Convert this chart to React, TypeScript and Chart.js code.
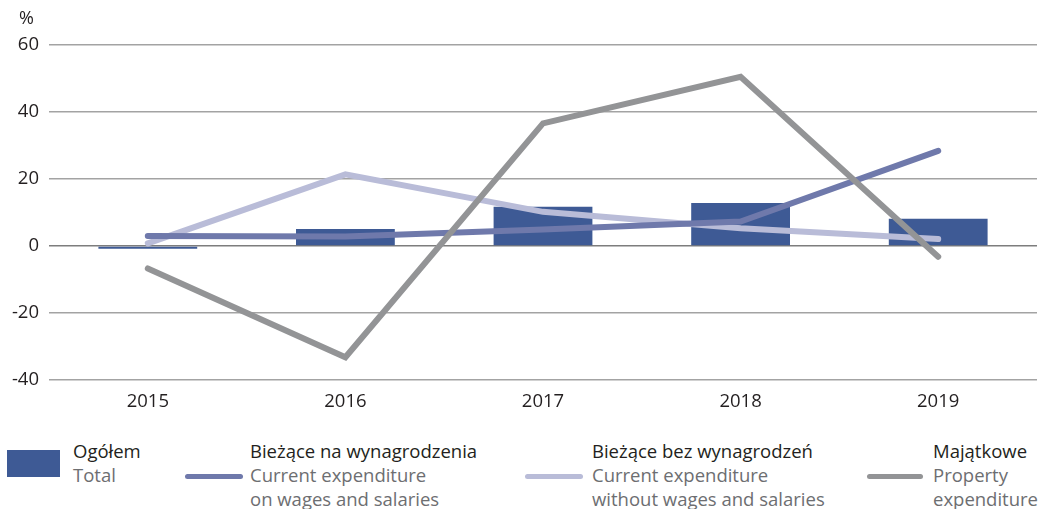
import React, { useEffect, useRef } from "react";
import { Chart, registerables } from "chart.js";

Chart.register(...registerables);

const categories = ["2015", "2016", "2017", "2018", "2019"];
const totalValues = [-0.8, 5.1, 11.7, 12.8, 8.1];
const wagesValues = [3.0, 2.8, 4.9, 7.3, 28.4];
const nonWagesValues = [0.8, 21.4, 10.2, 5.3, 2.1];
const propertyValues = [-6.7, -33.2, 36.6, 50.5, -3.2];
const yTicks = [-40, -20, 0, 20, 40, 60];

const FONT = "'Open Sans', sans-serif";
const BAR = "#3e5a95";
const WAGES = "#6f79ab";
const NONWAGES = "#b9bcd8";
const PROPERTY = "#939496";
const TITLE = "#231f20";
const SUB = "#6d6e71";

const legendItems = [
  { kind: "bar", color: BAR, title: "Ogółem", sub: ["Total"], swX: 7, swW: 53, txtX: 73 },
  { kind: "line", color: WAGES, title: "Bieżące na wynagrodzenia", sub: ["Current expenditure", "on wages and salaries"], swX: 185, swW: 58, txtX: 250 },
  { kind: "line", color: NONWAGES, title: "Bieżące bez wynagrodzeń", sub: ["Current expenditure", "without wages and salaries"], swX: 525, swW: 58, txtX: 592 },
  { kind: "line", color: PROPERTY, title: "Majątkowe", sub: ["Property", "expenditure"], swX: 867, swW: 56, txtX: 933 },
];

export default function App() {
  const ref = useRef<HTMLCanvasElement | null>(null);
  useEffect(() => {
    document.body.style.margin = "0";
    const ctx = ref.current!;
    const lineCommon = {
      type: "line" as const,
      borderWidth: 6,
      pointRadius: 0,
      borderCapStyle: "round" as const,
      borderJoinStyle: "miter" as const,
      tension: 0,
      fill: false,
    };
    const chart = new Chart(ctx, {
      type: "bar",
      data: {
        labels: categories,
        datasets: [
          { ...lineCommon, label: "Majątkowe", data: propertyValues, borderColor: PROPERTY, backgroundColor: PROPERTY, order: 0 },
          { ...lineCommon, label: "Bieżące na wynagrodzenia", data: wagesValues, borderColor: WAGES, backgroundColor: WAGES, order: 1 },
          { ...lineCommon, label: "Bieżące bez wynagrodzeń", data: nonWagesValues, borderColor: NONWAGES, backgroundColor: NONWAGES, order: 2 },
          { type: "bar", label: "Ogółem", data: totalValues, backgroundColor: BAR, barPercentage: 0.5, categoryPercentage: 1, order: 3 },
        ] as any,
      },
      options: {
        animation: false,
        responsive: false,
        maintainAspectRatio: false,
        layout: { padding: { top: 45, right: 14, left: 0, bottom: 0 } },
        plugins: { legend: { display: false }, tooltip: { enabled: false } },
        scales: {
          x: {
            offset: true,
            grid: { display: false, drawTicks: false },
            border: { display: false },
            ticks: { color: TITLE, font: { family: FONT, size: 18.5 }, padding: 11 },
            afterFit: (s: any) => { s.height = 40; },
          },
          y: {
            min: -40,
            max: 60,
            afterBuildTicks: (s: any) => { s.ticks = yTicks.map((v) => ({ value: v })); },
            grid: {
              color: (c: any) => (c.tick && c.tick.value === 0 ? "#7d7d7d" : "#a3a3a3"),
              lineWidth: 1.5,
              drawTicks: false,
            },
            border: { display: false },
            ticks: { color: TITLE, font: { family: FONT, size: 18.5 }, padding: 10 },
            afterFit: (s: any) => { s.width = 49; },
          },
        },
      },
    });
    return () => chart.destroy();
  }, []);

  return (
    <div style={{ position: "relative", width: 1051, height: 509, overflow: "hidden", background: "#fff" }}>
      <canvas ref={ref} width={1051} height={420} style={{ position: "absolute", left: 0, top: 0, width: 1051, height: 420 }} />
      <div style={{ position: "absolute", left: 19, top: 5, fontFamily: FONT, fontSize: 18, color: TITLE }}>%</div>
      {legendItems.map((it, i) => (
        <React.Fragment key={i}>
          {it.kind === "bar" ? (
            <div style={{ position: "absolute", left: it.swX, top: 450, width: it.swW, height: 27, background: it.color }} />
          ) : (
            <div style={{ position: "absolute", left: it.swX, top: 474, width: it.swW, height: 5, borderRadius: 3, background: it.color }} />
          )}
          <div style={{ position: "absolute", left: it.txtX, top: 439, fontFamily: FONT, fontSize: 18.5, lineHeight: "24px", whiteSpace: "nowrap" }}>
            <div style={{ color: TITLE }}>{it.title}</div>
            {it.sub.map((s, j) => (
              <div key={j} style={{ color: SUB }}>{s}</div>
            ))}
          </div>
        </React.Fragment>
      ))}
    </div>
  );
}
